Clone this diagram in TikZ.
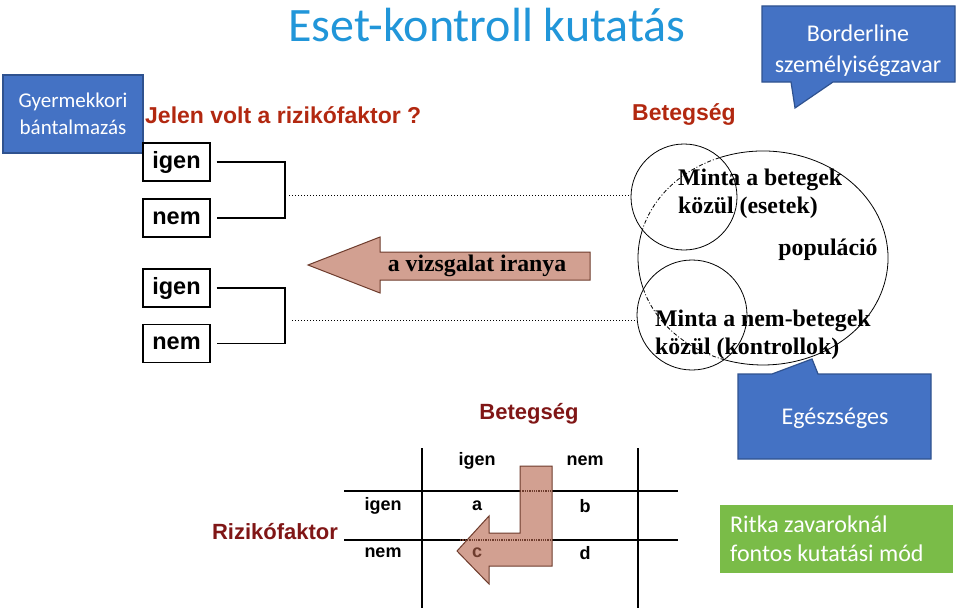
\documentclass[tikz,border=0pt]{standalone}
\usepackage{fontspec}
\setmainfont{Carlito}
\newfontfamily\ars{Liberation Sans}
\newfontfamily\tms{Liberation Serif}
\definecolor{titleblue}{RGB}{33,150,217}
\definecolor{boxblue}{RGB}{68,114,196}
\definecolor{boxedge}{RGB}{47,82,143}
\definecolor{boxgreen}{RGB}{122,188,72}
\definecolor{brick}{RGB}{178,40,16}
\definecolor{maroon}{RGB}{128,22,22}
\definecolor{arrowfill}{RGB}{210,160,145}
\definecolor{arrowedge}{RGB}{110,60,45}
\begin{document}
\begin{tikzpicture}[x=1pt,y=-1pt,
  yn/.style={draw, line width=1.3pt, minimum width=67pt, minimum height=38pt, inner sep=0pt, font=\ars\bfseries\fontsize{23.5}{25}\selectfont},
  hd/.style={font=\ars\bfseries\fontsize{23}{25}\selectfont, text=brick, inner sep=0pt},
  hd2/.style={font=\ars\bfseries\fontsize{22}{24}\selectfont, text=maroon, inner sep=0pt},
  serif/.style={font=\tms\bfseries\fontsize{23.8}{28}\selectfont, align=left, inner sep=0pt},
  cell/.style={font=\ars\bfseries\fontsize{18}{20}\selectfont, inner sep=0pt},
  callout/.style={fill=boxblue, draw=boxedge, line width=1.2pt},
  wtxt/.style={text=white, font=\fontsize{24}{31}\selectfont, align=center, inner sep=0pt},
  tline/.style={line width=1.3pt},
  bigarrow/.style={fill=arrowfill, draw=arrowedge, line width=1pt},
  thin/.style={line width=0.8pt}
]
\useasboundingbox (0,0) rectangle (960,610);

% title
\node[text=titleblue, font=\fontsize{48}{52}\selectfont, inner sep=0pt] (title) at (487,25) {Eset-kontroll kutatás};

% blue box left
\node[fill=boxblue, draw=boxedge, line width=1.2pt, minimum width=140pt, minimum height=78pt,
      text=white, font=\fontsize{21}{27}\selectfont, align=center, inner sep=0pt] (gy) at (73,114)
      {Gyermekkori\\bántalmazás};

% Borderline callout
\draw[callout] (762,6) -- (955,6) -- (955,82) -- (833,82) -- (795,108) -- (791,82) -- (762,82) -- cycle;
\node[wtxt] (bl) at (858,51) {Borderline\\személyiségzavar};

% Egészséges callout
\draw[callout] (738,374) -- (772,374) -- (812,359) -- (818,374) -- (931,374) -- (931,459) -- (738,459) -- cycle;
\node[wtxt] (eg) at (835,418) {Egészséges};

% green box
\fill[boxgreen] (720,505) rectangle (953,573);
\node[text=white, font=\fontsize{24}{29}\selectfont, align=left, inner sep=0pt, anchor=west] (rk) at (730,539)
      {Ritka zavaroknál\\fontos kutatási mód};

% headings
\node[hd, anchor=west] (jv) at (145,115) {Jelen volt a rizikófaktor ?};
\node[hd] (bt) at (684,115) {Betegség};

% yes/no boxes
\node[yn] (i1) at (176.5,162) {igen};
\node[yn] (n1) at (176.5,218) {nem};
\node[yn] (i2) at (176.5,288) {igen};
\node[yn] (n2) at (176.5,343.5) {nem};
\coordinate (j1) at (285,195);
\coordinate (j2) at (285,320);
\draw[tline] ([xshift=6pt]i1.east) -| (j1) |- ([xshift=6pt]n1.east);
\draw[tline] ([xshift=6pt]i2.east) -| (j2) |- ([xshift=6pt]n2.east);

% circles and population ellipse
\node[draw, thin, circle, minimum size=106pt, inner sep=0pt] (c1) at (684,197) {};
\node[draw, thin, circle, minimum size=110pt, inner sep=0pt] (c2) at (692,315) {};
\coordinate (pc) at (763,258);
\draw[thin] (pc) ++(250:125 and 107) arc[start angle=250, end angle=468, x radius=125, y radius=107];
\draw[thin, dash pattern=on 4pt off 2pt on 1pt off 2pt] (pc) ++(108:125 and 107) arc[start angle=108, end angle=163, x radius=125, y radius=107];
\draw[thin] (pc) ++(163:125 and 107) arc[start angle=163, end angle=194, x radius=125, y radius=107];
\draw[thin, dash pattern=on 4pt off 2pt on 1pt off 2pt] (pc) ++(194:125 and 107) arc[start angle=194, end angle=250, x radius=125, y radius=107];

\draw[dotted, line width=1pt] ([xshift=4pt]j1) -- (j1 -| c1.west);
\draw[dotted, line width=1pt] ([xshift=7pt]j2) -- (j2 -| c2.west);

\node[serif, anchor=west] (m1) at (678,194) {Minta a betegek\\közül (esetek)};
\node[serif] (pop) at (828,250) {populáció};
\node[serif, anchor=west] (m2) at (655,335) {Minta a nem-betegek\\közül (kontrollok)};

% big arrow
\draw[bigarrow] (590,252) -- (380,252) -- (380,237) -- (308,265) -- (380,293) -- (380,280) -- (590,280) -- cycle;
\node[serif] (vz) at (477,266) {a vizsgalat iranya};

% bottom table
\node[hd2] (bt2) at (529,414) {Betegség};
\node[hd2] (rf) at (275,532) {Rizikófaktor};
\draw[tline] (422,448) -- (422,608);
\draw[tline] (638,448) -- (638,608);
\draw[tline] (344,491) -- (678,491);
\draw[tline] (344,540) -- (678,540);

\draw[bigarrow] (520,466) -- (552,466) -- (552,566) -- (489,566) -- (489,584) -- (457,551) -- (489,516) -- (489,533) -- (520,533) -- cycle;
\draw[densely dotted, arrowedge, line width=1.3pt] (520,491) -- (552,491);
\draw[densely dotted, arrowedge, line width=1.3pt] (460,540) -- (552,540);

\node[cell] (hi) at (477,461) {igen};
\node[cell] (hn) at (585,461) {nem};
\node[cell] (ri) at (383,506) {igen};
\node[cell] (rn) at (383,553) {nem};
\node[cell] (ca) at (477,506) {a};
\node[cell] (cb) at (585,506) {b};
\node[cell, text=arrowedge] (cc) at (477,553) {c};
\node[cell] (cd) at (585,553) {d};
\end{tikzpicture}
\end{document}
